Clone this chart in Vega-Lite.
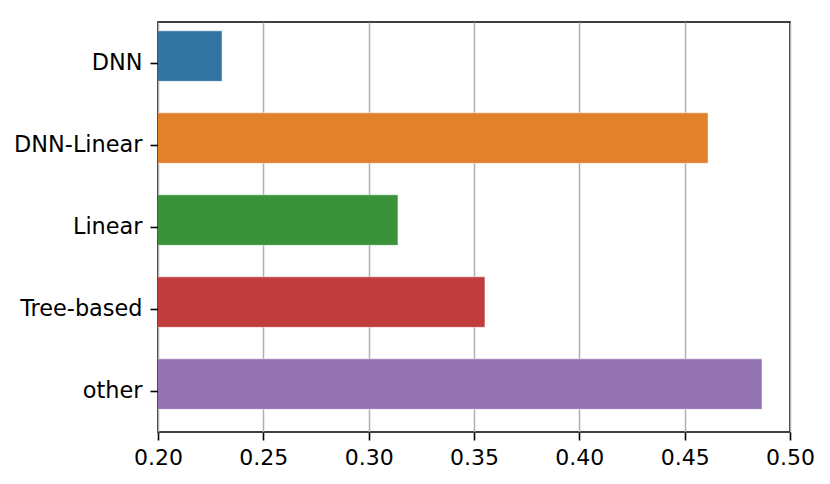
{
  "$schema": "https://vega.github.io/schema/vega-lite/v6.json",
  "autosize": "none",
  "width": 632,
  "height": 410,
  "padding": {"left": 158, "top": 22, "right": 40, "bottom": 52},
  "background": "white",
  "config": {
    "view": {"stroke": "black", "strokeWidth": 1.6},
    "font": "DejaVu Sans"
  },
  "data": {
    "values": [
      {"model": "DNN", "score": 0.2304},
      {"model": "DNN-Linear", "score": 0.4611},
      {"model": "Linear", "score": 0.3139},
      {"model": "Tree-based", "score": 0.3552},
      {"model": "other", "score": 0.4867}
    ]
  },
  "mark": {"type": "bar", "clip": true, "stroke": "white", "strokeOpacity": 0.5, "strokeWidth": 1},
  "encoding": {
    "y": {
      "field": "model",
      "type": "nominal",
      "sort": null,
      "scale": {"paddingInner": 0.384, "paddingOuter": 0.192, "align": 0.28},
      "axis": {
        "title": null,
        "domain": false,
        "bandPosition": 0.64,
        "labelOffset": 7,
        "labelFont": "DejaVu Sans",
        "labelFontSize": 22.4,
        "labelColor": "black",
        "tickColor": "black",
        "tickSize": 8,
        "tickWidth": 1.6,
        "labelPadding": 8
      }
    },
    "x": {
      "field": "score",
      "type": "quantitative",
      "scale": {"domain": [0.2, 0.5], "zero": false, "nice": false},
      "axis": {
        "title": null,
        "domain": false,
        "values": [0.2, 0.25, 0.3, 0.35, 0.4, 0.45, 0.5],
        "format": ".2f",
        "labelFont": "DejaVu Sans",
        "labelFontSize": 22,
        "labelColor": "black",
        "tickColor": "black",
        "tickSize": 8,
        "tickWidth": 1.6,
        "labelPadding": 7,
        "labelFlush": false,
        "grid": true,
        "gridColor": "#b0b0b0",
        "gridWidth": 1.5
      }
    },
    "color": {
      "field": "model",
      "type": "nominal",
      "sort": null,
      "scale": {
        "domain": ["DNN", "DNN-Linear", "Linear", "Tree-based", "other"],
        "range": ["#3274a1", "#e1812c", "#3a923a", "#c03d3e", "#9372b2"]
      },
      "legend": null
    }
  }
}
